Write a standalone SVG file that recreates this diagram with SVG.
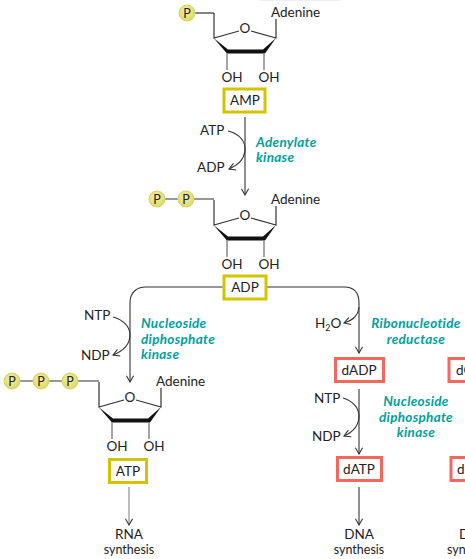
<svg xmlns="http://www.w3.org/2000/svg" xmlns:xlink="http://www.w3.org/1999/xlink" width="465" height="559" viewBox="0 0 465 559">
<style>
text{font-family:"Lato","Open Sans","Liberation Sans",sans-serif;font-size:13.5px;fill:#222}
.e{font-weight:700;font-style:italic;fill:#00a09d;font-size:13.5px;letter-spacing:.3px}
.m{text-anchor:middle}
.s{font-size:12.5px}
.y{fill:#fff;stroke:#d4c400;stroke-width:3}
.r{fill:#fff;stroke:#f2685f;stroke-width:3}
.c{fill:none;stroke:#333;stroke-width:1.1}
.g{stroke:#888}
.pc{fill:url(#pg);stroke:#d9d560;stroke-width:1}
.b{fill:none;stroke:#333;stroke-width:1.2}
.bg{fill:none;stroke:#888;stroke-width:1.5}
</style>
<defs>
<radialGradient id="pg" cx=".45" cy=".4" r=".6"><stop offset="0" stop-color="#f4f0a8"/><stop offset="1" stop-color="#dcd868"/></radialGradient>
<marker id="a" viewBox="0 0 10 10" refX="9" refY="5" markerWidth="9" markerHeight="9" orient="auto" markerUnits="userSpaceOnUse"><path d="M2 1L9 5L2 9" fill="none" stroke="#333" stroke-width="1.2"/></marker>
<g id="sugar">
<path class="b" d="M-19-25V0L6-7M18-7L43 0V-19"/>
<path d="M-19.500 0L-5 11.500H30L43 0L32 15.500H-6Z" fill="#111"/>
<path class="bg" d="M-6 15V32M31 15V32"/>
</g>
</defs>
<rect x="260" y="0" width="80" height="1" fill="#eeeefa"/>
<g id="connectors">
<path class="c" d="M245 117V195" marker-end="url(#a)"/>
<path class="c" d="M228 131C240 134 246 142 245 151C244 158 239 165 229 169" marker-end="url(#a)"/>
<path class="c" d="M223 287H146C136 287 130 293 130 303V382" marker-end="url(#a)"/>
<path class="c" d="M266 287H344C354 287 359 293 359 303V353" marker-end="url(#a)"/>
<path class="c" d="M113 317C124 320 130 327 130 335C130 344 123 351 113 355" marker-end="url(#a)"/>
<path class="c" d="M359 307C358 316 353 320 344 323" marker-end="url(#a)"/>
<path class="c" d="M359 389V454" marker-end="url(#a)"/>
<path class="c" d="M343 398C353 401 359 408 359 416C359 425 353 432 344 436" marker-end="url(#a)"/>
<path class="c g" d="M129 487V525" marker-end="url(#a)"/>
<path class="c" d="M359 487V525" marker-end="url(#a)"/>
</g>
<g id="amp-molecule">
<path class="b" d="M195 13H214"/><circle class="pc" cx="187" cy="13" r="8"/><text class="m s" x="187" y="18">P</text>
<use xlink:href="#sugar" href="#sugar" x="233" y="38"/>
<text class="m" x="245" y="33">O</text><text x="271" y="16.500">Adenine</text>
<text class="m" x="232" y="82">OH</text><text class="m" x="269" y="82">OH</text>
</g>
<g id="amp"><rect class="y" x="224" y="89" width="41" height="23"/><text class="m" x="245" y="105">AMP</text></g>
<g id="adp-molecule">
<path class="b" d="M157 199H214"/><circle class="pc" cx="157" cy="199" r="8"/><circle class="pc" cx="186" cy="199" r="8"/>
<text class="m s" x="157" y="204">P</text><text class="m s" x="186" y="204">P</text>
<use xlink:href="#sugar" href="#sugar" x="233" y="225"/>
<text class="m" x="245" y="220">O</text><text x="271" y="203.500">Adenine</text>
<text class="m" x="232" y="269">OH</text><text class="m" x="269" y="269">OH</text>
</g>
<g id="adp"><rect class="y" x="224" y="276" width="42" height="23"/><text class="m" x="245" y="292">ADP</text></g>
<g id="atp-molecule">
<path class="b" d="M12 381H99"/><circle class="pc" cx="12" cy="381" r="8"/><circle class="pc" cx="41" cy="381" r="8"/><circle class="pc" cx="70" cy="381" r="8"/>
<text class="m s" x="12" y="386">P</text><text class="m s" x="41" y="386">P</text><text class="m s" x="70" y="386">P</text>
<use xlink:href="#sugar" href="#sugar" x="118" y="407"/>
<text class="m" x="130" y="402">O</text><text x="156" y="385.500">Adenine</text>
<text class="m" x="117" y="451">OH</text><text class="m" x="154" y="451">OH</text>
</g>
<g id="atp"><rect class="y" x="109.500" y="459.500" width="37" height="23"/><text class="m" x="128" y="476">ATP</text></g>
<g id="dadp"><rect class="r" x="335.500" y="358.500" width="48" height="23"/><text class="m" x="359" y="375">dADP</text></g>
<g id="datp"><rect class="r" x="337.500" y="457.500" width="44" height="23"/><text class="m" x="359" y="474">dATP</text></g>
<g id="dcdp"><rect class="r" x="449" y="358.500" width="30" height="23"/><text x="456" y="375">dC</text></g>
<g id="dctp"><rect class="r" x="451" y="457.500" width="30" height="23"/><text x="457" y="474">d</text></g>
<g id="labels">
<text x="200" y="135">ATP</text><text x="197" y="172">ADP</text>
<text class="e" x="256" y="147">Adenylate</text><text class="e" x="256" y="162">kinase</text>
<text x="84" y="320">NTP</text><text x="81" y="360">NDP</text>
<text class="e" x="141" y="328">Nucleoside</text><text class="e" x="141" y="344">diphosphate</text><text class="e" x="141" y="359">kinase</text>
<text x="315" y="328">H<tspan font-size="9" dy="3">2</tspan><tspan dy="-3">O</tspan></text>
<text class="e m" x="416" y="328">Ribonucleotide</text><text class="e m" x="416" y="344">reductase</text>
<text x="314" y="403">NTP</text><text x="312" y="441">NDP</text>
<text class="e m" x="416" y="406">Nucleoside</text><text class="e m" x="416" y="422">diphosphate</text><text class="e m" x="416" y="437">kinase</text>
<text class="m" x="129" y="539">RNA</text><text class="m s" x="129" y="554">synthesis</text>
<text class="m" x="359" y="539">DNA</text><text class="m s" x="359" y="554">synthesis</text>
<text x="459" y="539">D</text><text class="s" x="447" y="554">syn</text>
</g>
</svg>
